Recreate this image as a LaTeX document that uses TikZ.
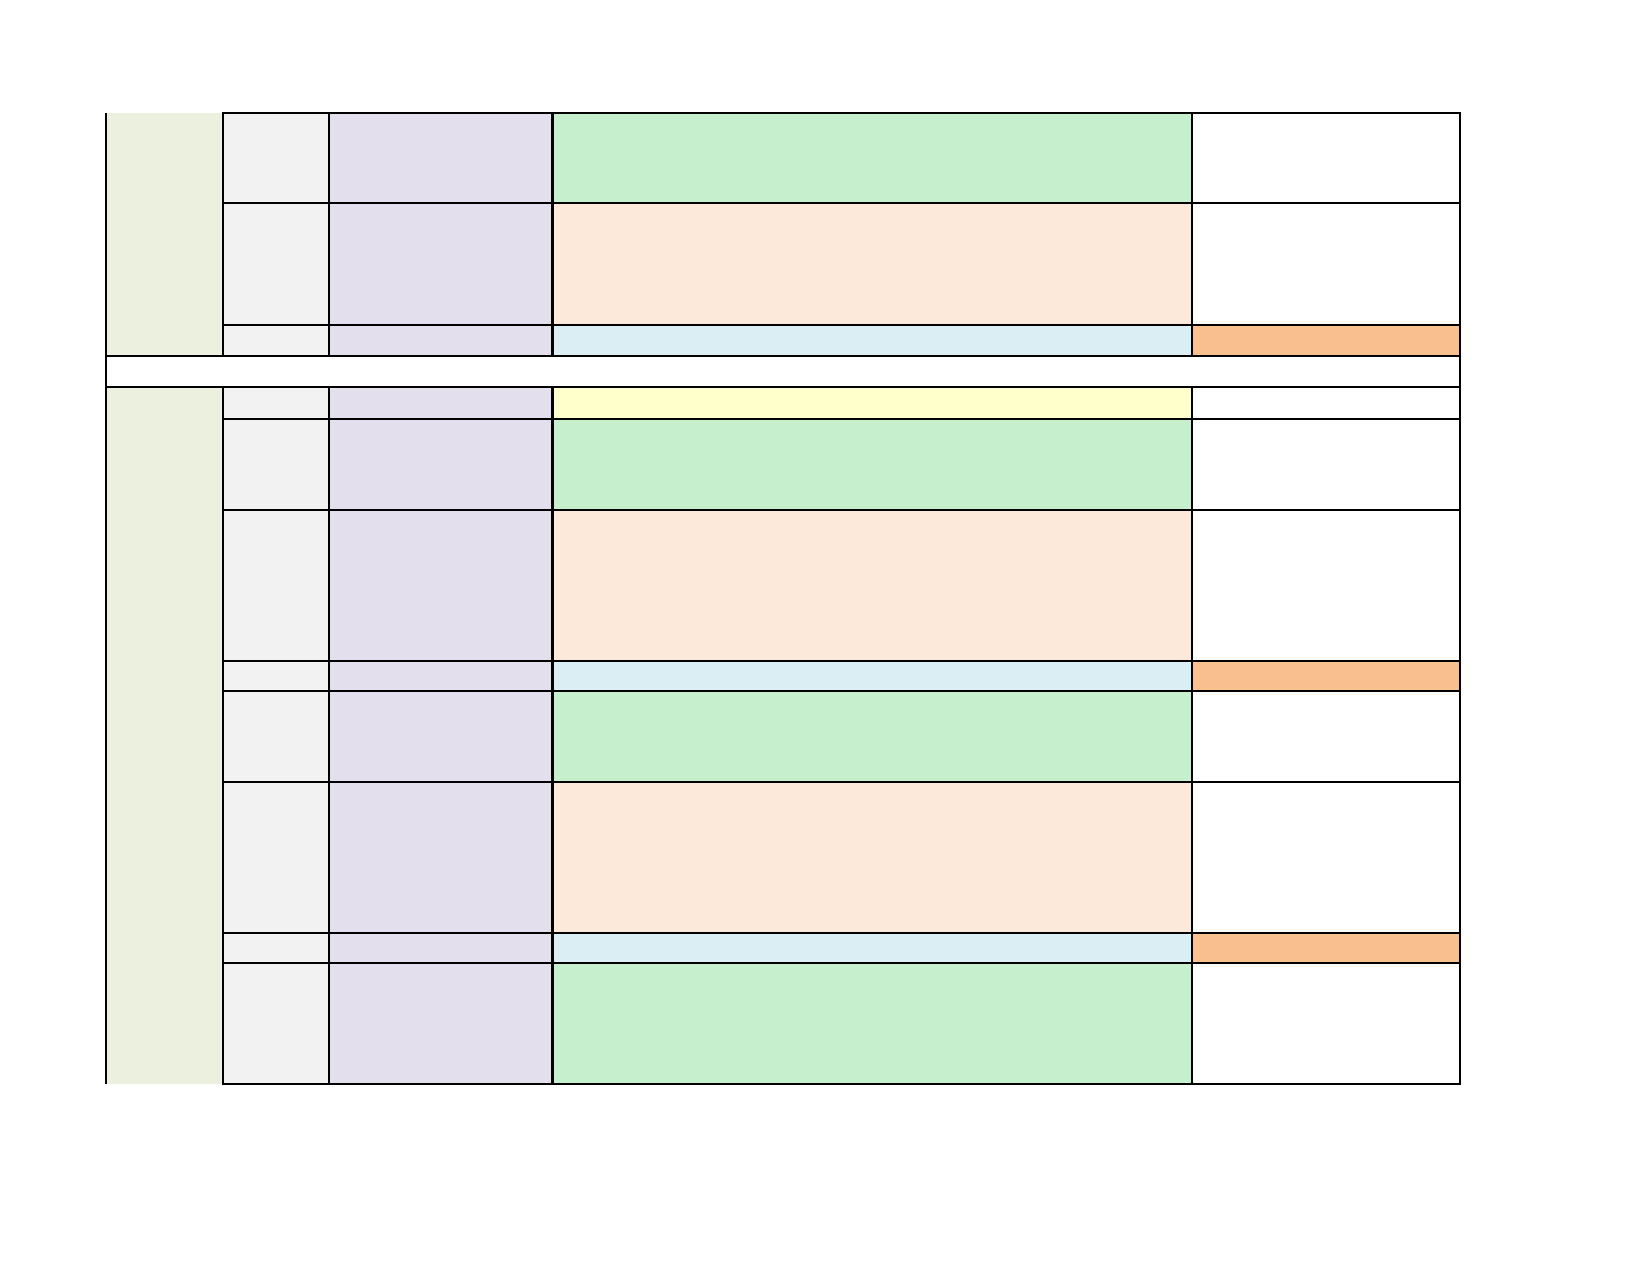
\documentclass[tikz,border=0pt]{standalone}
\usetikzlibrary{calc}
\definecolor{sidegreen}{HTML}{EBF1DE}
\definecolor{cellgray}{HTML}{F2F2F2}
\definecolor{lavender}{HTML}{E4DFEC}
\definecolor{goodgreen}{HTML}{C6EFCE}
\definecolor{peach}{HTML}{FDE9D9}
\definecolor{paleblue}{HTML}{DAEEF3}
\definecolor{tanorange}{HTML}{FABF8F}
\definecolor{paleyellow}{HTML}{FFFFCC}
\begin{document}
\begin{tikzpicture}[x=0.01cm,y=-0.01cm,line width=0.7pt]
			\useasboundingbox (0,0) rectangle (1650,1275);
			\fill[sidegreen] (106,113) rectangle (223,356);
			\fill[sidegreen] (106,387) rectangle (223,1084);
			\foreach \ya/\yb/\mid/\last in {113/203/goodgreen/white,203/325/peach/white,325/356/paleblue/tanorange,
				387/419/paleyellow/white,419/510/goodgreen/white,510/661/peach/white,661/691/paleblue/tanorange,
				691/782/goodgreen/white,782/933/peach/white,933/963/paleblue/tanorange,963/1084/goodgreen/white}{
				\draw[fill=cellgray] (223,\ya) rectangle (329,\yb);
				\draw[fill=lavender] (329,\ya) rectangle (552.5,\yb);
				\draw[fill=\mid] (552.5,\ya) rectangle (1192,\yb);
				\draw[fill=\last] (1192,\ya) rectangle (1460,\yb);
			}
			\draw (106,356) rectangle (1460,387);
			\draw (106,113)--(106,1084);
		\end{tikzpicture}
\end{document}
